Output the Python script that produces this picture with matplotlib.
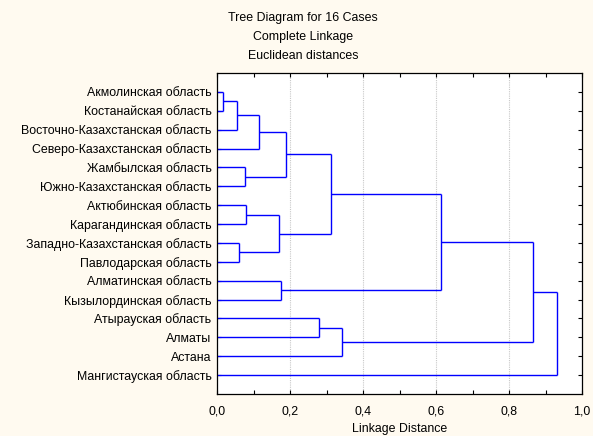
import matplotlib
matplotlib.use("Agg")
import matplotlib.pyplot as plt
from matplotlib.ticker import MultipleLocator

plt.rcParams['font.family'] = ['Liberation Sans', 'DejaVu Sans']

labels = [
    "Акмолинская область",
    "Костанайская область",
    "Восточно-Казахстанская область",
    "Северо-Казахстанская область",
    "Жамбылская область",
    "Южно-Казахстанская область",
    "Актюбинская область",
    "Карагандинская область",
    "Западно-Казахстанская область",
    "Павлодарская область",
    "Алматинская область",
    "Кызылординская область",
    "Атырауская область",
    "Алматы",
    "Астана",
    "Мангистауская область",
]

# merges: (child_a, child_b), new cluster ids start at 16
merge_a = [0, 16, 17, 4, 18, 6, 8, 21, 20, 10, 24, 12, 27, 26, 29]
merge_b = [1, 2, 3, 5, 19, 7, 9, 22, 23, 11, 25, 13, 14, 28, 15]
merge_h = [0.017, 0.054, 0.114, 0.077, 0.189, 0.079, 0.059, 0.169, 0.311,
           0.174, 0.615, 0.280, 0.343, 0.866, 0.932]

xtick_vals = [0.0, 0.2, 0.4, 0.6, 0.8, 1.0]
xtick_labels = ["0,0", "0,2", "0,4", "0,6", "0,8", "1,0"]
title_lines = ["Tree Diagram for 16 Cases", "Complete Linkage", "Euclidean distances"]
xlabel = "Linkage Distance"

FS = 8.9
W, H = 593, 436
fig = plt.figure(figsize=(W / 100, H / 100), dpi=100)
bg = '#fffaf0'
fig.patch.set_facecolor(bg)
ax = fig.add_axes([217 / W, 1 - 394 / H, (582 - 217) / W, (394 - 73) / H])
ax.set_facecolor('white')

n = len(labels)
ypos = {i: float(i) for i in range(n)}
xpos = {i: 0.0 for i in range(n)}
color = '#0000ff'
for k, (a, b, h) in enumerate(zip(merge_a, merge_b, merge_h)):
    nid = n + k
    ax.plot([xpos[a], h], [ypos[a], ypos[a]], color=color, lw=1.0, solid_capstyle='butt')
    ax.plot([xpos[b], h], [ypos[b], ypos[b]], color=color, lw=1.0, solid_capstyle='butt')
    ax.plot([h, h], [ypos[a], ypos[b]], color=color, lw=1.0, solid_capstyle='butt')
    ypos[nid] = (ypos[a] + ypos[b]) / 2
    xpos[nid] = h

ax.set_xlim(0, 1.0)
ax.set_ylim(n, -1)
ax.set_yticks(range(n))
ax.set_yticklabels(labels, fontsize=FS)
ax.set_xticks(xtick_vals)
ax.set_xticklabels(xtick_labels, fontsize=FS)
ax.xaxis.set_minor_locator(MultipleLocator(0.1))
ax.tick_params(axis='x', which='both', direction='in', top=True, bottom=True, length=3, width=0.8, pad=8)
ax.tick_params(axis='y', which='both', direction='in', left=True, right=True, length=3, width=0.8, pad=4)
for g in xtick_vals[1:-1]:
    ax.axvline(g, color='#c8c8c8', lw=0.8, ls=(0, (1, 1)), zorder=0)
for s in ax.spines.values():
    s.set_linewidth(0.9)
    s.set_color('black')

ax.set_xlabel(xlabel, fontsize=FS, labelpad=4)

ys = [18, 37, 56]
for t, y in zip(title_lines, ys):
    fig.text(303 / W, 1 - y / H, t, ha='center', va='center', fontsize=FS)

fig.savefig("out.png", dpi=100, facecolor=bg)
